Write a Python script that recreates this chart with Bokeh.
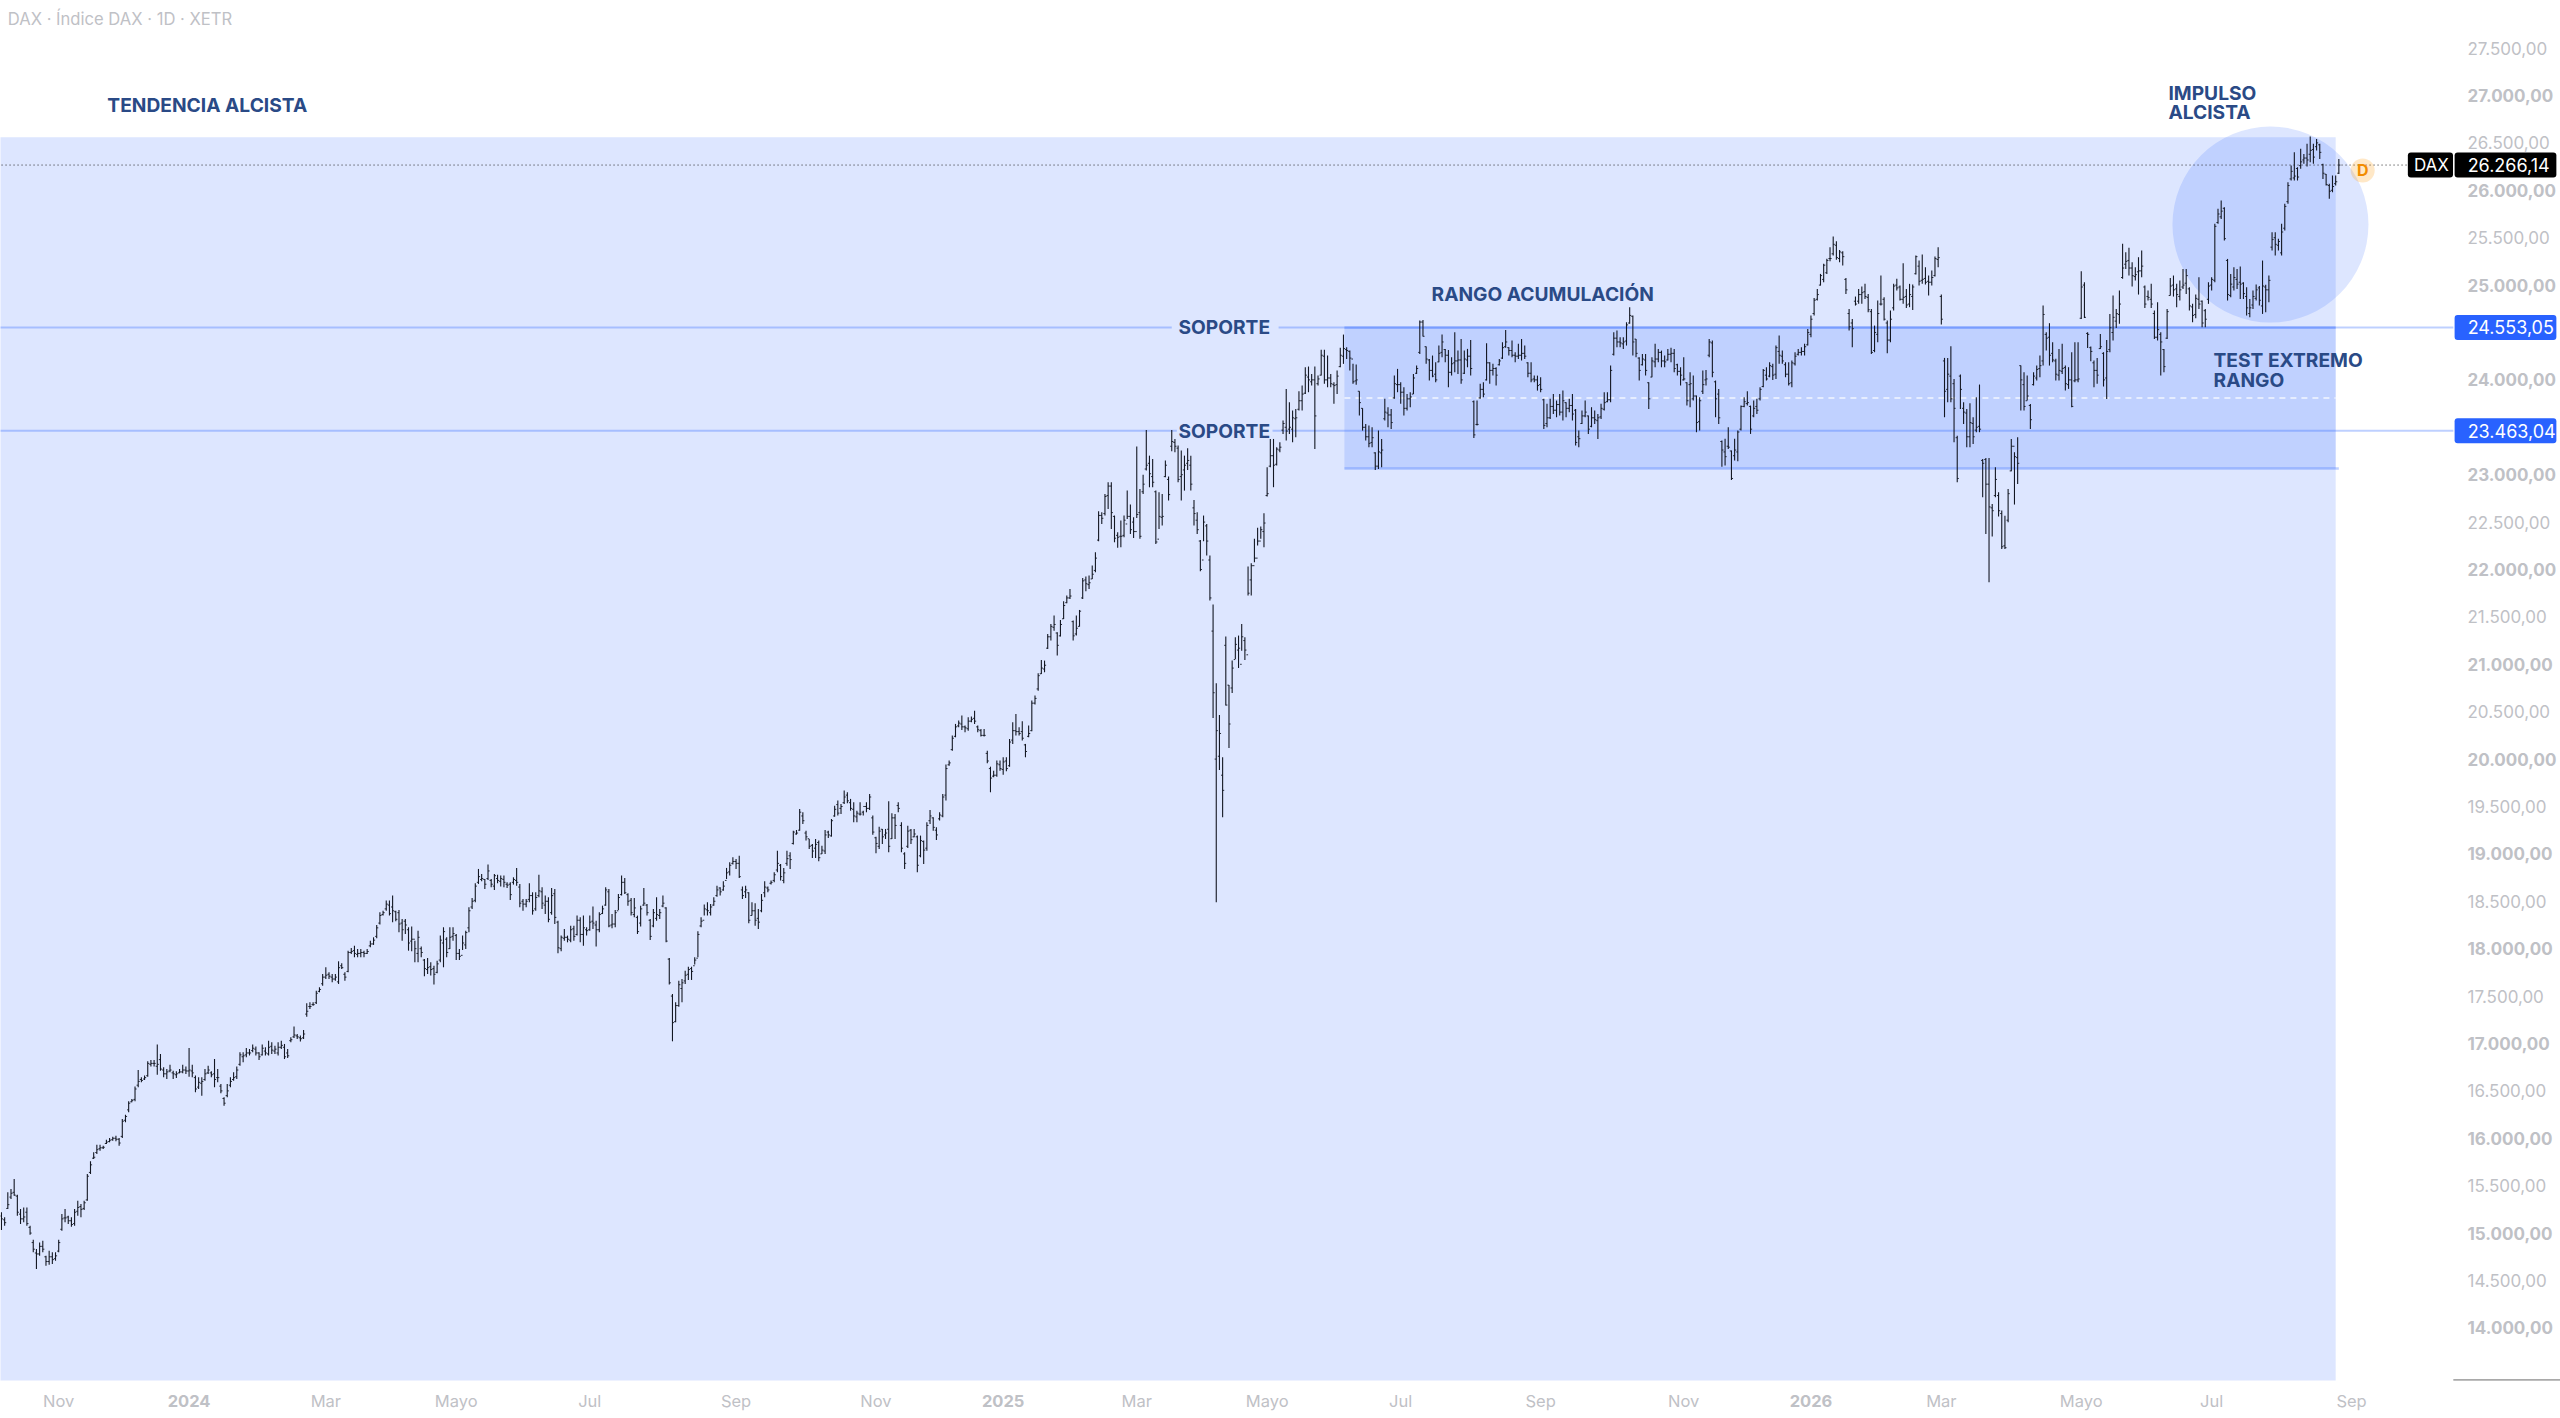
from bokeh.core.properties import value
from bokeh.embed import file_html
from bokeh.models import FixedTicker, LinearAxis, Range1d
from bokeh.plotting import figure
from bokeh.resources import INLINE

# daily bars, one entry per trading day
highs = [
    15219,15166,15430,15465,15570,15405,15254,15271,15271,15078,
    14930,14832,14902,14920,14762,14814,14797,14797,14930,15201,
    15254,15183,15166,15254,15342,15307,15342,15623,15757,15852,
    15933,15933,15922,15985,16003,16017,16028,16003,16203,16249,
    16390,16414,16545,16720,16643,16661,16812,16826,16826,16988,
    16889,16749,16731,16777,16713,16706,16731,16777,16756,16953,
    16777,16661,16643,16643,16731,16766,16706,16836,16731,16573,
    16432,16573,16643,16696,16756,16907,16907,16953,16942,16988,
    16967,16907,16988,16960,17030,17012,16977,17012,17030,16995,
    16942,17065,17178,17100,17083,17142,17424,17434,17434,17557,
    17593,17733,17804,17751,17733,17733,17867,17846,17751,17979,
    18008,18032,17997,17997,17979,17997,18085,18120,18250,
    18384,18401,18507,18507,18560,18401,18408,18314,18314,18226,
    18233,18085,18190,18022,17891,17902,17856,17821,17874,18138,
    18226,18120,18226,18226,18155,17997,18138,18190,18437,18535,
    18690,18841,18788,18736,18887,18736,18788,18781,18771,18771,
    18700,18700,18753,18852,18683,18525,18525,18690,18595,18595,
    18781,18648,18560,18542,18640,18630,18296,18138,18208,18138,
    18243,18243,18349,18331,18349,18226,18349,18444,18296,18384,
    18454,18648,18630,18366,18408,18577,18771,18746,18584,18535,
    18535,18349,18454,18641,18472,18313,18419,18542,18419,18560,
    18437,17902,17522,17434,17663,
    17680,17768,17810,17810,17909,18183,18331,18465,18489,18472,
    18542,18665,18647,18711,18852,18911,18964,18946,18981,18655,
    18665,18595,18489,18479,18419,18577,18711,18655,18718,18806,
    19034,18894,18851,19034,19017,19245,19252,19474,19439,19245,
    19157,19105,19157,19140,19087,19252,19245,19368,19509,19562,
    19527,19668,19650,19580,19544,19456,19544,19456,19544,19632,
    19404,19182,19287,19263,19263,19555,19428,19421,19544,19333,
    19017,19298,19263,19263,19193,19193,19140,19333,19463,19386,
    19281,19439,19632,19942,19984,
    20248,20371,20406,20459,20353,20441,20448,20511,20353,20318,
    20318,20089,19920,19878,19984,19984,20019,20019,20212,20388,
    20476,20336,20399,20160,20353,20617,20670,20905,21046,21039,
    21320,21426,21514,21338,21468,21665,21725,21795,21461,21514,
    21573,21911,21925,21936,22041,22182,22614,22604,22797,22920,
    22920,22569,22393,22516,22569,
    22832,22685,22551,23297,22850,23000,23472,23201,23166,22832,
    22815,22797,23149,22980,23472,23377,23307,23254,23201,23280,
    23201,22734,22604,22312,22569,22481,22147,21630,20800,20466,
    20019,21292,20782,21039,21285,21303,21426,21285,22031,22066,
    22323,22439,22453,22593,
    23078,23377,23377,23289,23342,23571,23905,23764,23676,23694,
    23880,23940,24134,24141,24063,24141,24045,24317,24317,24257,
    24063,23975,24098,24338,24478,24345,24309,24169,24162,23880,
    23701,23536,23518,23500,23237,23465,23377,23800,23712,23694,
    24045,24116,23975,23923,23852,23870,24063,24151,24626,24633,
    24352,24221,24257,24186,24362,24478,24327,24316,24239,24503,
    24309,24432,24309,24327,24422,23782,23782,23958,23975,24387,
    24186,24169,24133,24221,24397,24527,24345,24415,24292,24380,
    24432,24362,24186,24186,24045,24045,24028,23800,23747,23800,
    23852,23782,23852,23887,23764,23800,23852,23694,23465,23676,
    23782,23624,23712,23676,23641,23747,23870,23870,24151,24503,
    24520,24450,24450,24608,24767,24679,24432,24239,24274,24274,
    23975,24239,24380,24327,24309,24257,24327,24338,24327,24169,
    24133,24239,23975,24081,24045,23835,23817,
    24098,24105,24432,24415,23993,23905,23360,23378,23500,23254,
    23378,23465,23729,23817,23880,23729,23782,23800,23923,24116,
    24134,24186,24169,24362,24468,24309,24186,24186,24204,24292,
    24327,24345,24380,24538,24679,24865,24960,25118,25224,25277,
    25400,25512,25463,25371,25357,25076,24749,24643,24879,24960,
    24985,25013,24907,24749,24573,24837,25101,24872,24626,24731,
    25013,25066,24995,25231,24960,25013,25006,25312,25259,25322,
    25189,25101,25153,25301,25400,24900,24232,24232,24355,24010,
    23412,24056,23764,23694,23754,23606,23817,23951,23166,23177,
    23177,22691,23078,22815,22621,22568,22850,23377,23237,23395,
    24151,24081,24046,23746,24081,24151,24257,24784,24503,24598,
    24397,24222,24327,24380,24151,24134,24292,24397,24397,25146,
    25031,24503,24352,24204,24232,24485,24292,24422,24696,24890,
    24749,24942,25435,25347,25393,25241,25189,25294,25365,24995,
    24942,25013,24731,24819,24503,24327,24749,25076,25101,25013,
    25048,25171,25171,24978,24802,24900,25083,
    24837,24749,25030,25083,25646,25804,25892,25821,25276,25118,
    25188,25171,25196,25030,24977,24854,24942,25006,24990,25259,
    25003,25100,25558,25558,25488,25646,25857,26085,26261,26402,
    26243,26437,26384,26490,26567,26490,26542,26490,26279,26173,
    26068,26156,26156,26331,
]
lows = [
    15032,15078,15254,15360,15395,15183,15096,15113,15078,14983,
    14797,14621,14762,14797,14656,14666,14674,14709,14797,15025,
    15113,15096,15068,15078,15183,15166,15243,15342,15623,15781,
    15834,15869,15887,15940,15957,15975,15968,15922,16003,16168,
    16274,16379,16390,16538,16590,16615,16650,16756,16756,16671,
    16713,16643,16625,16696,16625,16636,16685,16685,16678,16650,
    16643,16485,16520,16450,16608,16678,16643,16538,16590,16474,
    16344,16432,16538,16608,16625,16766,16801,16854,16872,16907,
    16872,16826,16872,16872,16872,16889,16889,16872,16942,16836,
    16847,17012,17058,17048,17020,17048,17283,17364,17399,17417,
    17540,17610,17681,17681,17645,17663,17628,17786,17663,17751,
    17944,17909,17909,17909,17909,17944,18015,18040,18110,
    18254,18349,18401,18349,18278,18289,18173,18085,18155,17979,
    17972,17856,17856,17909,17709,17733,17716,17621,17740,17856,
    17804,17909,17997,18085,17881,17881,17986,17997,18173,18419,
    18489,18683,18711,18630,18725,18648,18620,18690,18655,18648,
    18640,18514,18676,18665,18437,18401,18437,18489,18359,18401,
    18542,18419,18366,18278,18359,18261,17951,17972,18085,18067,
    18067,18085,18138,18067,18032,18138,18190,18208,18022,18173,
    18366,18454,18226,18215,18226,18408,18560,18577,18454,18349,
    18331,18155,18233,18454,18349,18092,18226,18296,18313,18437,
    18067,17621,17023,17223,17388,
    17434,17628,17670,17670,17832,17909,18226,18349,18349,18349,
    18454,18549,18560,18612,18735,18771,18887,18841,18746,18524,
    18535,18268,18349,18243,18208,18384,18542,18595,18676,18700,
    18806,18718,18690,18876,18841,19098,19203,19245,19316,19140,
    19052,18957,18957,18922,18999,18999,19168,19182,19393,19404,
    19421,19527,19534,19456,19333,19333,19404,19404,19439,19463,
    19203,19006,19052,19105,19157,19017,19157,19157,19439,19017,
    18841,19063,19105,19175,18806,18964,18894,19034,19316,19245,
    19147,19351,19386,19562,19931,
    20089,20230,20336,20307,20283,20300,20388,20371,20283,20237,
    20237,19956,19650,19808,19815,19878,19836,19871,19920,20160,
    20248,20248,20195,20019,20230,20293,20575,20722,20898,20916,
    21162,21250,21355,21092,21292,21478,21644,21689,21250,21303,
    21398,21689,21770,21795,21900,21971,22298,22481,22569,22639,
    22428,22287,22228,22235,22340,
    22533,22375,22333,22544,22323,22797,23043,22867,22867,22269,
    22428,22463,22973,22727,23247,23237,22920,22727,22832,23050,
    22832,22463,22375,21981,22298,22147,21672,20434,18489,19885,
    19386,20564,20117,20698,21056,20961,21144,21046,21725,21725,
    22077,22252,22323,22235,
    22769,23078,22868,23096,23237,23430,23360,23430,23342,23395,
    23676,23676,23852,23870,23940,23272,23940,24045,23958,23922,
    23922,23747,23852,24133,24169,24221,24098,23958,23950,23624,
    23465,23360,23290,23290,23050,23061,23078,23571,23500,23483,
    23800,23870,23747,23624,23676,23711,23852,24063,24274,24457,
    24169,23993,24028,23975,24186,24239,24186,23923,24045,24081,
    24063,23958,24063,24133,24045,23388,23518,23800,23817,23993,
    23958,24045,23940,24151,24221,24338,24257,24239,24186,24221,
    24204,24221,24028,23975,23975,23887,23870,23483,23500,23588,
    23641,23606,23624,23571,23606,23659,23571,23307,23290,23536,
    23606,23430,23500,23536,23377,23588,23676,23764,23764,24257,
    24345,24345,24327,24362,24591,24257,24239,23993,24151,24045,
    23694,24028,24133,24186,24133,24133,24204,24186,24081,24045,
    23940,23993,23729,23712,23782,23448,23465,
    23852,23940,24239,24028,23606,23536,23085,23096,23272,22945,
    23149,23142,23465,23712,23729,23430,23606,23641,23782,23923,
    23993,24028,24000,24010,24169,24169,24028,23940,23923,24151,
    24257,24257,24257,24362,24450,24679,24837,24995,25030,25118,
    25252,25312,25266,25241,25206,24907,24520,24345,24784,24802,
    24802,24854,24714,24274,24292,24397,24784,24626,24281,24397,
    24731,24942,24837,24802,24759,24767,24738,25111,24995,25013,
    25006,24890,24995,25090,25189,24584,23606,23764,23764,23342,
    22920,23694,23536,23289,23289,23325,23448,23448,22762,22375,
    21865,22347,22762,22558,22217,22217,22498,23036,22685,22903,
    23676,23676,23782,23483,23940,23993,24028,24151,24309,24151,
    24186,23993,23993,24063,23887,23905,23711,23975,23975,24643,
    24654,24337,24197,23923,23958,24327,23930,23799,24292,24415,
    24548,24591,25066,25171,25101,24985,25048,24900,25083,24759,
    24837,24759,24432,24415,24046,24081,24432,24890,24879,24767,
    24837,24960,24907,24731,24608,24650,24749,
    24555,24555,24802,24942,25030,25646,25698,25470,24837,24872,
    24942,24960,24854,24854,24679,24661,24749,24837,24784,24696,
    24714,24819,25364,25312,25364,25312,25575,25857,26103,26103,
    26103,26226,26279,26251,26296,26279,26419,26331,26120,26050,
    25910,25980,26050,26173,
]
opens = [
    15180,15140,15260,15380,15430,15390,15200,15150,15220,15060,
    14900,14790,14780,14860,14750,14700,14750,14730,14810,15040,
    15160,15170,15130,15100,15230,15280,15260,15350,15640,15790,
    15850,15890,15900,15945,15965,15985,16000,15990,16020,16190,
    16300,16385,16410,16560,16620,16625,16660,16780,16790,16760,
    16830,16720,16680,16710,16690,16670,16690,16700,16720,16710,
    16710,16640,16540,16580,16620,16690,16690,16680,16640,16550,
    16420,16450,16560,16620,16650,16780,16860,16880,16900,16925,
    16940,16900,16880,16920,16890,16970,16920,16900,16960,16960,
    16900,17030,17070,17080,17060,17060,17310,17390,17410,17430,
    17550,17630,17700,17730,17700,17680,17650,17820,17730,17760,
    17960,17980,17940,17950,17960,17950,18030,18050,18130,
    18270,18360,18420,18460,18440,18390,18380,18270,18290,18200,
    18080,18100,17950,18000,17880,17780,17810,17790,17750,17880,
    18060,18100,18000,18130,18140,17950,17930,18040,18220,18440,
    18510,18700,18730,18730,18740,18720,18660,18740,18710,18730,
    18680,18680,18700,18720,18650,18500,18470,18520,18560,18420,
    18560,18600,18460,18500,18380,18580,18280,18000,18110,18120,
    18090,18210,18150,18300,18150,18200,18200,18290,18250,18200,
    18370,18460,18600,18250,18260,18400,18570,18700,18570,18510,
    18360,18330,18270,18460,18460,18300,18240,18320,18350,18450,
    18430,17890,17500,17230,17400,
    17580,17660,17730,17790,17820,17900,18240,18300,18410,18380,
    18460,18560,18640,18620,18720,18810,18900,18920,18900,18620,
    18600,18590,18350,18400,18320,18400,18590,18640,18690,18720,
    18830,18880,18720,18900,18980,19110,19210,19250,19400,19220,
    19160,19090,19060,19120,19000,19030,19230,19190,19400,19520,
    19480,19540,19620,19540,19470,19390,19420,19440,19500,19480,
    19380,19170,19080,19260,19200,19260,19160,19380,19510,19300,
    19000,19080,19250,19180,19180,18980,19130,19060,19350,19380,
    19250,19370,19400,19620,19940,
    20100,20240,20350,20370,20340,20320,20400,20430,20340,20300,
    20250,20060,19900,19820,19830,19940,19890,19980,19930,20200,
    20300,20290,20290,20150,20240,20300,20590,20740,20900,20950,
    21170,21290,21390,21330,21300,21480,21650,21700,21450,21320,
    21400,21700,21890,21840,21900,21990,22310,22570,22590,22780,
    22880,22560,22360,22350,22360,
    22480,22560,22500,22400,22600,22820,23060,23120,22980,22820,
    22320,22550,22980,22950,23300,23340,23280,22980,23050,23120,
    23100,22650,22520,22300,22100,22460,22100,21350,20000,20030,
    19830,21200,20780,20750,21050,21150,21000,21250,21100,21890,
    22040,22120,22300,22400,
    22780,23090,23200,23110,23260,23470,23500,23480,23480,23590,
    23690,23780,23860,24030,23980,24000,23960,24050,24250,24000,
    24020,23950,23950,24140,24250,24320,24300,24220,23990,23880,
    23700,23500,23400,23340,23230,23090,23230,23590,23650,23630,
    23810,23950,23950,23870,23700,23800,23850,24070,24290,24610,
    24350,24210,24100,24060,24190,24290,24320,24260,24080,24180,
    24200,24210,24070,24210,24250,23770,23530,23810,23900,24000,
    24180,24100,24120,24160,24230,24350,24340,24310,24260,24250,
    24260,24280,24180,24070,24010,24000,23950,23790,23540,23600,
    23720,23680,23740,23660,23760,23700,23730,23680,23400,23540,
    23620,23620,23510,23600,23570,23610,23690,23770,23790,24270,
    24440,24400,24380,24410,24600,24670,24430,24230,24160,24210,
    23970,24030,24190,24220,24290,24200,24210,24270,24280,24160,
    24090,24000,23970,23950,23800,23830,23560,
    23880,24000,24260,24390,23980,23850,23350,23240,23300,23250,
    23200,23240,23480,23720,23750,23720,23620,23720,23800,23930,
    24050,24040,24140,24060,24300,24250,24160,24060,23970,24170,
    24270,24290,24300,24370,24480,24700,24850,25000,25060,25130,
    25280,25330,25420,25280,25340,25060,24700,24600,24830,24830,
    24900,24930,24870,24720,24310,24480,24800,24850,24600,24420,
    24760,25000,24980,24850,24880,24800,24880,25120,25200,25050,
    25070,25040,25030,25100,25270,24880,24200,23900,24040,23960,
    23390,24040,23700,23650,23400,23540,23470,23510,23150,23160,
    22900,22650,22780,22780,22590,22250,22520,23040,23300,23180,
    24150,23950,23780,23730,23950,24020,24120,24200,24480,24450,
    24280,24200,24050,24090,24130,23950,24000,23990,24000,24650,
    25000,24490,24340,24180,24100,24330,24280,24020,24320,24500,
    24620,24690,25080,25220,25260,25180,25090,25140,25150,24980,
    24880,24850,24700,24450,24480,24320,24440,24890,25000,24960,
    24880,24980,25020,24960,24770,24690,24850,
    24830,24730,24850,25000,25050,25660,25720,25810,25260,24890,
    24980,25060,25030,25020,24880,24700,24790,24860,24970,24780,
    24980,24950,25400,25500,25420,25340,25600,25880,26120,26130,
    26230,26260,26320,26340,26380,26430,26460,26480,26270,26170,
    26050,26000,26070,26180,
]
closes = [
    15150,15110,15300,15420,15400,15220,15150,15170,15100,15000,
    14830,14780,14860,14830,14700,14750,14720,14760,14900,15150,
    15160,15130,15090,15220,15270,15250,15320,15600,15720,15800,
    15880,15900,15905,15960,15980,16000,15990,15950,16180,16230,
    16370,16400,16520,16600,16610,16640,16790,16790,16790,16780,
    16730,16680,16700,16720,16680,16680,16700,16720,16710,16720,
    16690,16520,16590,16600,16680,16720,16670,16620,16640,16500,
    16370,16500,16600,16640,16720,16880,16870,16900,16900,16950,
    16900,16860,16950,16900,16960,16930,16940,16960,16980,16860,
    16870,17040,17090,17070,17050,17100,17340,17390,17410,17530,
    17570,17700,17720,17710,17680,17700,17800,17800,17700,17960,
    17970,17950,17950,17960,17950,17970,18050,18090,18220,
    18350,18380,18470,18370,18400,18310,18260,18200,18250,18060,
    18100,18000,18120,17960,17790,17800,17780,17730,17840,18090,
    18180,17960,18120,18160,17950,17920,18060,18170,18400,18500,
    18660,18760,18740,18680,18820,18680,18770,18720,18740,18700,
    18670,18570,18730,18700,18480,18470,18500,18560,18400,18540,
    18610,18480,18500,18310,18560,18330,18010,18120,18120,18100,
    18200,18130,18300,18150,18220,18190,18280,18270,18200,18360,
    18420,18620,18240,18260,18380,18540,18700,18590,18500,18380,
    18430,18180,18420,18480,18380,18130,18380,18360,18380,18480,
    18080,17640,17220,17400,17620,
    17640,17720,17780,17760,17880,18150,18290,18420,18400,18440,
    18500,18620,18600,18660,18800,18880,18920,18900,18760,18560,
    18620,18300,18400,18300,18280,18510,18650,18620,18700,18780,
    18900,18760,18800,18950,18940,19230,19220,19440,19350,19180,
    19080,19030,19100,18960,19040,19200,19200,19350,19470,19430,
    19500,19600,19560,19480,19400,19430,19420,19500,19480,19600,
    19230,19110,19240,19180,19220,19080,19380,19300,19480,19060,
    18900,19240,19150,19210,18880,19140,19040,19300,19400,19280,
    19200,19410,19600,19900,19960,
    20220,20340,20380,20340,20330,20400,20420,20400,20310,20250,
    20250,19980,19800,19830,19950,19900,19970,19900,20180,20300,
    20290,20270,20220,20080,20270,20590,20640,20880,20960,20990,
    21290,21400,21420,21200,21420,21620,21700,21720,21300,21380,
    21560,21880,21850,21860,21950,22120,22570,22540,22770,22880,
    22600,22330,22340,22350,22520,
    22560,22420,22400,22580,22350,22900,23100,23010,22920,22290,
    22560,22560,23100,22790,23350,23300,22950,23000,23100,23150,
    22900,22590,22420,22000,22500,22300,21700,20700,20300,20270,
    19670,20570,20370,20960,21210,21170,21290,21150,21750,22040,
    22120,22300,22420,22490,
    22800,23200,23100,23270,23290,23540,23460,23500,23600,23600,
    23780,23850,24050,24000,24000,23620,24010,24260,24000,24020,
    23960,23940,24040,24260,24330,24310,24230,23980,24000,23760,
    23500,23400,23330,23390,23090,23240,23260,23660,23630,23550,
    23960,23950,23870,23700,23800,23820,24020,24120,24610,24460,
    24220,24100,24040,24000,24280,24400,24260,24080,24170,24200,
    24210,24000,24220,24250,24120,23420,23530,23900,23850,24180,
    24100,24120,24050,24200,24340,24400,24310,24260,24250,24260,
    24280,24250,24070,24000,24000,23940,23900,23520,23600,23720,
    23680,23740,23660,23780,23700,23730,23640,23340,23380,23620,
    23660,23480,23600,23580,23600,23700,23760,23790,24100,24440,
    24400,24390,24400,24580,24680,24400,24280,24100,24220,24100,
    23800,24200,24220,24290,24200,24190,24270,24280,24120,24090,
    24050,24010,23780,23960,23830,23550,23780,
    23950,24010,24400,24080,23800,23600,23260,23190,23290,22960,
    23260,23450,23720,23770,23760,23480,23700,23680,23900,24100,
    24010,24150,24050,24340,24260,24200,24060,23960,24180,24250,
    24290,24300,24350,24500,24640,24840,24900,25100,25210,25260,
    25280,25430,25290,25350,25300,24950,24560,24540,24800,24900,
    24920,24880,24740,24290,24500,24700,24800,24640,24420,24640,
    24990,24970,24850,24870,24790,24900,24980,25300,25040,25060,
    25030,25030,25080,25280,25290,24640,23880,24060,23800,23700,
    22960,23900,23660,23400,23550,23400,23500,23480,23120,22900,
    22660,22620,22950,22620,22240,22230,22800,23300,23190,23120,
    24000,23720,23830,23580,24040,24110,24150,24690,24440,24260,
    24210,24060,24100,24120,23960,24000,23720,24000,24010,24980,
    24660,24480,24300,24100,24050,24350,24000,24300,24550,24660,
    24700,24800,25180,25250,25180,25100,25110,25150,25200,24800,
    24870,24800,24450,24530,24400,24140,24720,24990,24950,24900,
    24950,25000,25100,24780,24680,24860,24800,
    24600,24640,24990,25060,25620,25750,25780,25490,24900,25010,
    25080,25010,25010,24910,24760,24760,24880,24950,24840,24990,
    24950,25050,25480,25430,25460,25560,25830,26050,26200,26150,
    26140,26300,26340,26320,26420,26350,26500,26400,26180,26060,
    25990,26040,26090,26266,
]

# tick labels
price_major = [27000, 26000, 25000, 24000, 23000, 22000, 21000, 20000, 19000, 18000, 17000, 16000, 15000, 14000]
price_minor = [27500, 26500, 25500, 22500, 21500, 20500, 19500, 18500, 17500, 16500, 15500, 14500]
month_ticks = [18, 102, 143, 185, 231, 275, 357, 398, 440, 484, 529, 610, 654, 695, 739]
month_labels = ["Nov", "Mar", "Mayo", "Jul", "Sep", "Nov", "Mar", "Mayo", "Jul", "Sep", "Nov", "Mar", "Mayo", "Jul", "Sep"]
year_ticks = [59, 315, 569]
year_labels = ["2024", "2025", "2026"]

# levels drawn on the chart
last_price = 26266.14
resistance = 24553.05
support = 23463.04
range_low = 23065
range_mid = 23809
zone_top = 26560

FONT = "Inter"
BLUE = "#2962ff"
NAVY = "#2a4a86"
GREY = "#bfc1c6"


def price_text(v):
    return f"{v // 1000}.{v % 1000:03d},00"


p = figure(width=2560, height=1418, output_backend="svg", toolbar_location=None,
           x_range=Range1d(-0.3, 804.7), y_range=Range1d(13445, 28002),
           x_axis_location=None, y_axis_location=None,
           min_border=0, min_border_bottom=38, outline_line_color=None, background_fill_color="white")
p.grid.visible = False

# shaded zones
p.quad(left=[-5], right=[734], top=[zone_top], bottom=[13000], fill_color=BLUE, fill_alpha=0.155, line_color=None)
p.quad(left=[422.3], right=[734], top=[resistance], bottom=[range_low], fill_color=BLUE, fill_alpha=0.155, line_color=None)
p.scatter([713.5], [25639], size=196, marker="circle", fill_color=BLUE, fill_alpha=0.155, line_color=None)

# levels
p.segment([-5, 401.6], [resistance] * 2, [368, 771], [resistance] * 2, line_color=BLUE, line_alpha=0.3, line_width=2)
p.segment([-5, 399.7], [support] * 2, [369.6, 771], [support] * 2, line_color=BLUE, line_alpha=0.3, line_width=2)
p.segment([422.3, 422.3], [resistance, range_low], [734, 735], [resistance, range_low], line_color=BLUE, line_alpha=0.3, line_width=2.5)
p.segment([422.3], [range_mid], [734], [range_mid], line_color="white", line_alpha=0.8, line_width=1.5, line_dash="6 5")
p.segment([-5], [last_price], [756.6], [last_price], line_color="#222222", line_width=1, line_dash="1 3")

# OHLC bars
xs = list(range(len(highs)))
bar_color = "#131722"
p.segment(xs, lows, xs, highs, line_color=bar_color, line_width=1.1)
p.segment([x - 0.5 for x in range(len(opens))], opens, list(range(len(opens))), opens, line_color=bar_color, line_width=0.9)
p.segment(list(range(len(closes))), closes, [x + 0.5 for x in range(len(closes))], closes, line_color=bar_color, line_width=0.9)

# notes
def note(x, y, text, size="19.2px", color=NAVY, style="bold"):
    p.text([x], [y], text=[text], text_font=value(FONT), text_font_size=size, text_color=color,
           text_font_style=style, text_align="left", text_baseline="middle")


note(2.0, 27802, "DAX · Índice DAX · 1D · XETR", size="16.6px", color=GREY, style="normal")
note(33.3, 26895, "TENDENCIA ALCISTA")
note(681.4, 27021, "IMPULSO")
note(681.4, 26821, "ALCISTA")
note(449.7, 24901, "RANGO ACUMULACIÓN")
note(370.1, resistance, "SOPORTE")
note(370.1, support, "SOPORTE")
note(695.6, 24205, "TEST EXTREMO")
note(695.6, 24004, "RANGO")

# daily marker
p.scatter([742.5], [26209], size=24, marker="circle", fill_color="#ff9800", fill_alpha=0.22, line_color=None)
p.text([742.5], [26209], text=["D"], text_font=value(FONT), text_font_size="16px", text_font_style="bold",
       text_color="#f28c00", text_align="center", text_baseline="middle")

# price tags
p.quad(left=[756.7], right=[770.9], top=[last_price + 132], bottom=[last_price - 132], fill_color="#000000", line_color=None, border_radius=3)
p.quad(left=[771.4, 771.4, 771.4], right=[803.4, 803.4, 803.4],
       top=[last_price + 132, resistance + 132, support + 132], bottom=[last_price - 132, resistance - 132, support - 132],
       fill_color=["#000000", BLUE, BLUE], line_color=None, border_radius=3)
p.text([758.6], [last_price], text=["DAX"], text_font=value(FONT), text_font_size="17px", text_color="white",
       text_align="left", text_baseline="middle")
p.text([775.5] * 3, [last_price, resistance, support], text=["26.266,14", "24.553,05", "23.463,04"],
       text_font=value(FONT), text_font_size="18px", text_color="white", text_align="left", text_baseline="middle")
p.segment([771], [13450], [806], [13450], line_color="#555555", line_width=1.2)

# price axes, thousands in bold, negative standoff keeps both over the chart's right edge
price_bold = LinearAxis(ticker=FixedTicker(ticks=price_major),
                        major_label_overrides={v: price_text(v) for v in price_major},
                        axis_line_color=None, major_tick_line_color=None, minor_tick_line_color=None,
                        major_tick_in=0, major_tick_out=0, minor_tick_in=0, minor_tick_out=0,
                        major_label_standoff=-93, major_label_text_font=FONT, major_label_text_font_size="17px",
                        major_label_text_font_style="bold", major_label_text_color=GREY)
price_thin = LinearAxis(ticker=FixedTicker(ticks=price_minor),
                        major_label_overrides={v: price_text(v) for v in price_minor},
                        axis_line_color=None, major_tick_line_color=None, minor_tick_line_color=None,
                        major_tick_in=0, major_tick_out=0, minor_tick_in=0, minor_tick_out=0,
                        major_label_standoff=-93, major_label_text_font=FONT, major_label_text_font_size="17px",
                        major_label_text_font_style="normal", major_label_text_color=GREY)
p.add_layout(price_bold, "right")
p.add_layout(price_thin, "right")

# time axes, same trick for the years
months = LinearAxis(ticker=FixedTicker(ticks=month_ticks),
                    major_label_overrides=dict(zip(month_ticks, month_labels)),
                    axis_line_color=None, major_tick_line_color=None, minor_tick_line_color=None,
                    major_tick_in=0, major_tick_out=0, minor_tick_in=0, minor_tick_out=0,
                    major_label_standoff=10, major_label_text_font=FONT, major_label_text_font_size="16.5px",
                    major_label_text_color=GREY)
years = LinearAxis(ticker=FixedTicker(ticks=year_ticks),
                   major_label_overrides=dict(zip(year_ticks, year_labels)),
                   axis_line_color=None, major_tick_line_color=None, minor_tick_line_color=None,
                   major_tick_in=0, major_tick_out=0, minor_tick_in=0, minor_tick_out=0,
                   major_label_standoff=-19, major_label_text_font=FONT, major_label_text_font_size="16.5px",
                   major_label_text_font_style="bold", major_label_text_color=GREY)
p.add_layout(months, "below")
p.add_layout(years, "below")

open("out.html", "w").write(file_html(p, INLINE))
